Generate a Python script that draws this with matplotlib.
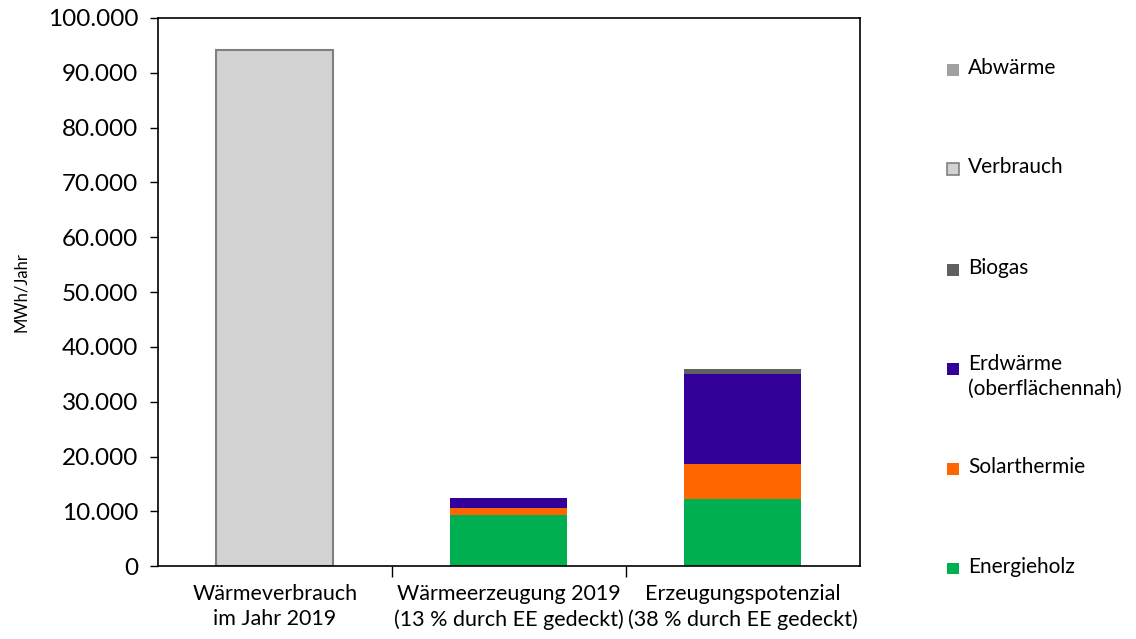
import matplotlib
matplotlib.use('Agg')
import matplotlib.pyplot as plt
import numpy as np
from matplotlib.patches import Rectangle
from matplotlib.ticker import FuncFormatter

plt.rcParams['font.family'] = ['Lato', 'DejaVu Sans']

# Daten (MWh/Jahr)
categories = ['Wärmeverbrauch\nim Jahr 2019',
              'Wärmeerzeugung 2019\n(13 % durch EE gedeckt)',
              'Erzeugungspotenzial\n(38 % durch EE gedeckt)']
energieholz = [0, 9250, 12300]
solarthermie = [0, 1330, 6390]
erdwaerme = [0, 1770, 16270]
biogas = [0, 0, 1000]
verbrauch = [94200, 0, 0]
abwaerme = [0, 0, 0]

series_labels = ['Energieholz', 'Solarthermie', 'Erdwärme\n(oberflächennah)',
                 'Biogas', 'Verbrauch', 'Abwärme']
series_values = [energieholz, solarthermie, erdwaerme, biogas, verbrauch, abwaerme]
colors = ['#00B050', '#FF6600', '#330099', '#606060', '#D3D3D3', '#A0A0A0']
edges = ['none', 'none', 'none', 'none', '#808080', 'none']

fig = plt.figure(figsize=(11.36, 6.39), dpi=100)
ax = fig.add_axes([0.139, 0.114, 0.618, 0.858])

x = np.arange(len(categories))
bottom = np.zeros(len(categories))
for vals, col, ec in zip(series_values, colors, edges):
    vals = np.array(vals, dtype=float)
    m = vals > 0
    if m.any():
        ax.bar(x[m], vals[m], width=0.5, bottom=bottom[m], color=col,
               edgecolor=ec, linewidth=1.5 if ec != 'none' else 0)
    bottom += vals

ax.set_xlim(-0.5, 2.5)
ax.set_ylim(0, 100000)
ax.set_yticks(np.arange(0, 100001, 10000))
ax.yaxis.set_major_formatter(FuncFormatter(lambda v, p: f'{int(v):,}'.replace(',', '.')))
ax.tick_params(axis='y', labelsize=17.5, length=6, width=1, direction='out', pad=8)
ax.set_ylabel('MWh/Jahr', fontsize=12, labelpad=14)

# Kategorie-Beschriftungen und Trennstriche
ax.set_xticks(x)
ax.set_xticklabels(categories, fontsize=15.5, linespacing=1.3)
ax.tick_params(axis='x', length=0, pad=13)
ax.set_xticks([0.5, 1.5], minor=True)
ax.tick_params(axis='x', which='minor', length=8, width=1, direction='out')

for s in ax.spines.values():
    s.set_color('black')
    s.set_linewidth(1.2)

# Legende rechts
leg_y = [0.893, 0.738, 0.580, 0.425, 0.269, 0.113]
for lab, col, ec, y in zip(series_labels[::-1], colors[::-1], edges[::-1], leg_y):
    fig.patches.append(Rectangle((0.834, y - 0.012), 0.0105, 0.0187,
                                 transform=fig.transFigure, facecolor=col,
                                 edgecolor=ec, linewidth=1.2))
    if '\n' in lab:
        fig.text(0.852, y + 0.021, lab, fontsize=15, va='top', ha='left',
                 linespacing=1.3)
    else:
        fig.text(0.852, y, lab, fontsize=15, va='center', ha='left')

fig.savefig('out.png', dpi=100)
